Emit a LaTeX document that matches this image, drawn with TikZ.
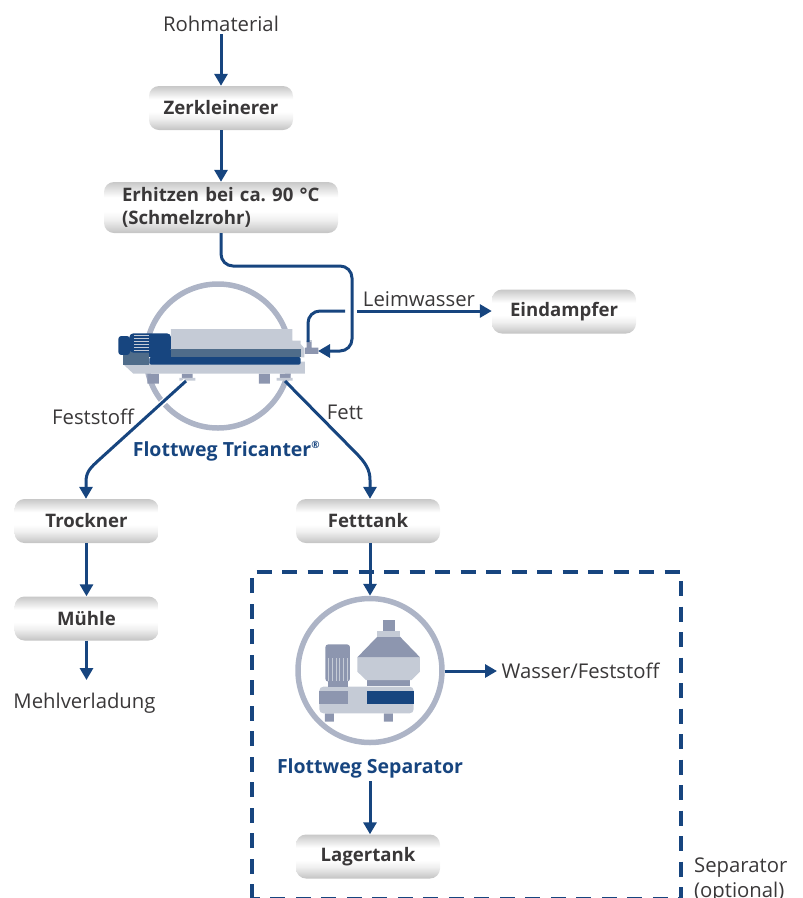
\documentclass[tikz,border=0pt]{standalone}
\usepackage{fontspec}
\setmainfont{Open Sans}
\frenchspacing
\usetikzlibrary{arrows.meta,calc}
\definecolor{fblue}{HTML}{17457F}
\definecolor{ftext}{HTML}{3A3839}
\definecolor{fring}{HTML}{ADB4C6}
\definecolor{fgray}{HTML}{8D96AF}
\definecolor{flight}{HTML}{C5CBD6}
\definecolor{fslate}{HTML}{4F6C8A}
\pgfdeclareverticalshading{boxshade}{100bp}{
 color(0bp)=(black!66);color(5bp)=(black!54);color(20bp)=(black!30);color(38bp)=(black!6);color(46bp)=(white);color(60bp)=(white);
 color(78bp)=(black!26);color(92bp)=(black!52);color(100bp)=(black!70)}
\tikzset{
 x=1pt,y=-1pt,
 procbox/.style={rounded corners=10pt,shading=boxshade,minimum height=44pt,minimum width=144pt,inner sep=0pt,
   font=\fontsize{18.6}{23}\selectfont\bfseries,text=ftext,align=left},
 lbl/.style={font=\fontsize{20.3}{24}\selectfont,text=ftext,inner sep=0pt},
 mach/.style={font=\fontsize{19.5}{23}\selectfont\bfseries,text=fblue,inner sep=0pt},
 flow/.style={draw=fblue,line width=3pt,-{Triangle[length=12pt,width=13pt]},rounded corners=12pt},
 plain/.style={draw=fblue,line width=3pt,rounded corners=12pt},
 ring/.style={circle,draw=fring,line width=5.5pt,minimum size=144pt,inner sep=0pt},
}
\begin{document}
\begin{tikzpicture}
\useasboundingbox (0,0) rectangle (803,898);
% dashed separator frame
\begin{scope}
\clip (0,0) rectangle (803,898);
\draw[fblue,line width=3.8pt,dash pattern=on 15pt off 10.5pt] (252,899) -- (252,572) -- (681,572) -- (681,899) -- cycle;
\end{scope}
% rings
\node[ring] (tric) at (218,356) {};
\node[ring] (sep) at (370,670.5) {};
% boxes
\node[procbox] (zerk) at (221,108) {Zerkleinerer};
\node[procbox,minimum width=234pt,minimum height=51pt,text width=198pt] (erh) at (221,207.5) {Erhitzen bei ca. 90 °C\\(Schmelzrohr)};
\node[procbox] (eind) at (564,311.5) {Eindampfer};
\node[procbox] (trock) at (86.5,521) {Trockner};
\node[procbox] (muehle) at (86.5,618.5) {Mühle};
\node[procbox] (fett) at (368,521) {Fetttank};
\node[procbox] (lager) at (368,856.5) {Lagertank};
% labels
\node[lbl] (roh) at (221,24) {Rohmaterial};
\node[lbl] (leim) at (419,299) {Leimwasser};
\node[lbl] (fest) at (93,417) {Feststoff};
\node[lbl] (fetl) at (345,412) {Fett};
\node[lbl] (mehl) at (84.5,703) {Mehlverladung};
\node[lbl] (wf) at (580.5,671) {Wasser/Feststoff};
\node[lbl,align=left,anchor=north west] (opt) at (694,858) {Separator\\[1pt](optional)};
\node[mach] (tl) at (226.5,451) {Flottweg Tricanter\textsuperscript{\fontsize{10}{10}\selectfont®}};
\node[mach] (sl) at (370,768) {Flottweg Separator};
% tricanter machine
\begin{scope}[shift={(110,270)},x=0.3333pt,y=-0.3333pt]
 \fill[fgray] (112,311) rectangle (147,341) (447,311) rectangle (480,341)
   (216,311) rectangle (248,324) (510,311) rectangle (542,324);
 \fill[flight] (208,324) rectangle (256,332) (500,324) rectangle (548,332);
 \fill[flight] (40,283) -- (70,311) -- (585,311) -- (585,275) -- (118,275) -- cycle;
 \fill[flight] (183,177) -- (547,177) -- (547,212) -- (572,212) -- (572,222) -- (583,235) -- (583,262) -- (183,262) -- cycle;
 \fill[fslate] (40,240) rectangle (118,284);
 \fill[fblue,rounded corners=3pt] (25,198) rectangle (60,255);
 \fill[fblue,rounded corners=4pt] (58,190) rectangle (183,248);
 \fill[fblue] (118,240) rectangle (183,262);
 \fill[fblue,rounded corners=2pt] (118,261) rectangle (572,284);
 \fill[fslate] (183,237) rectangle (572,261);
 \foreach \yy in {197,206,215,224,233,242} \draw[flight,line width=0.5pt] (72,\yy) -- (118,\yy);
 \fill[fgray] (585,233) rectangle (625,252) (590,212) rectangle (605,233);
 \fill[flight] (590,211) rectangle (607,216);
\end{scope}
% separator machine
\begin{scope}[shift={(280,590)},x=0.3333pt,y=-0.3333pt]
 \fill[fgray] (135,370) rectangle (162,395) (312,370) rectangle (339,395);
 \fill[flight,rounded corners=4pt] (118,290) rectangle (401,370);
 \fill[fgray] (118,303) rectangle (204,342);
 \fill[fblue] (261,303) rectangle (401,342);
 \fill[fgray] (144,270) rectangle (204,291);
 \fill[fgray,rounded corners=3pt] (136,163) rectangle (210,275);
 \foreach \xx in {146,157,168,179,190,201} \draw[flight,line width=0.7pt] (\xx,205) -- (\xx,272);
 \fill[fgray] (261,270) rectangle (390,288);
 \fill[flight] (232,202) -- (420,202) -- (420,245) -- (395,270) -- (258,270) -- (232,245) -- cycle;
 \fill[fgray] (232,202) -- (292,140) -- (360,140) -- (420,202) -- cycle;
 \fill[flight] (292,124) rectangle (360,140);
 \fill[fgray] (309,90) rectangle (345,124);
\end{scope}
% coordinates
\coordinate (inlet) at (318,351);
\coordinate (leimout) at (308,342);
\coordinate (festout) at (186,381);
\coordinate (fettout) at (285,381);
\coordinate (wfstart) at (445,671);
\coordinate (wfend) at (497,671);
\coordinate (mehlend) at (86.5,680);
\coordinate (sepout) at (370,781);
% connectors
\draw[flow] (roh.south) ++(0,2) -- (roh.south |- zerk.north);
\draw[flow] (zerk) -- (erh);
\draw[flow] (erh.south) -- (221,266) -- (352,266) -- (352,351) -- (inlet);
\draw[plain] (leimout) -- (308,311) -- (345,311);
\draw[flow,rounded corners=0pt] (357,311) -- (eind.west |- 0,311);
\draw[white,line width=6pt] (186,381) -- (160,405);
\draw[flow,rounded corners=0pt] (festout) -- (100,459) .. controls (90,468) and (86,472) .. (86,482) -- (trock.north -| 86,0);
\draw[flow,rounded corners=0pt] (fettout) -- (355,452) .. controls (366,463) and (370,470) .. (370,480) -- (fett.north -| 370,0);
\draw[flow] (trock) -- (muehle);
\draw[flow] (muehle.south) -- (mehlend);
\draw[flow] (fett.south -| 370,0) -- (sep.north);
\draw[flow] (wfstart) -- (wfend);
\draw[flow] (sepout) -- (lager.north -| sepout);
\end{tikzpicture}
\end{document}
